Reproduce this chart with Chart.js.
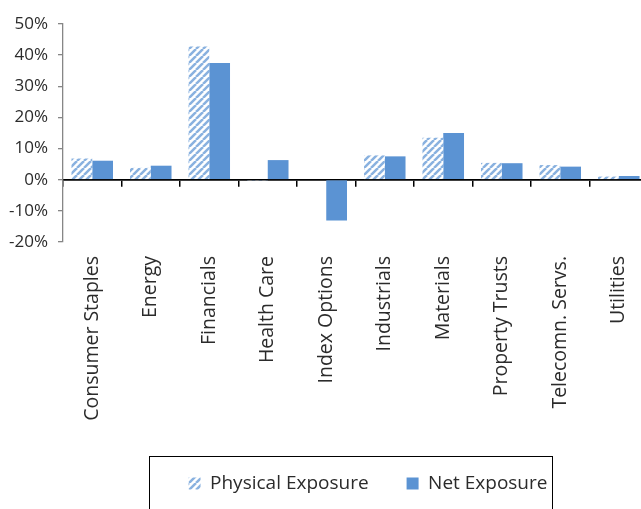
<!DOCTYPE html>
<html>
<head>
<meta charset="utf-8">
<script src="https://cdn.jsdelivr.net/npm/chart.js@4"></script>
<style>
  html, body { margin: 0; padding: 0; background: #fff; overflow: hidden; }
  #wrap { position: absolute; left: 0; top: 0; width: 736px; height: 540px; }
</style>
</head>
<body>
<div id="wrap"><canvas id="exposureChart"></canvas></div>
<script>
const sectors = ["Consumer Staples", "Energy", "Financials", "Health Care", "Index Options",
  "Industrials", "Materials", "Property Trusts", "Telecomn. Servs.", "Utilities"];
const physicalExposure = [6.8, 3.8, 42.8, -0.3, 0, 7.8, 13.5, 5.4, 4.7, 1.0];
const netExposure = [6.1, 4.5, 37.5, 6.3, -13.1, 7.5, 15.0, 5.3, 4.2, 1.2];
const yTicks = [-20, -10, 0, 10, 20, 30, 40, 50];

const BLUE = "#5b93d3";
const TEXT = "#2b2b2b";
const FONT = "'Open Sans', 'Noto Sans', sans-serif";

// diagonal hatch for the physical exposure bars
const makeHatch = () => {
  const c = document.createElement("canvas");
  c.width = 7; c.height = 7;
  const g = c.getContext("2d");
  g.fillStyle = "#fff";
  g.fillRect(0, 0, 7, 7);
  g.strokeStyle = "rgba(91,147,211,0.72)";
  g.lineWidth = 2.5;
  g.beginPath();
  for (let k = -7; k <= 14; k += 7) {
    g.moveTo(k, 7);
    g.lineTo(k + 7, 0);
  }
  g.stroke();
  return g.createPattern(c, "repeat");
};
const hatch = makeHatch();

// frame around the legend
const legendFrame = {
  id: "legendFrame",
  afterDraw(chart) {
    const boxes = chart.legend && chart.legend.legendHitBoxes;
    if (!boxes || !boxes.length) return;
    const first = boxes[0], last = boxes[boxes.length - 1];
    const ctx = chart.ctx;
    const cy = first.top + first.height / 2;
    const l = first.left - 40, r = last.left + last.width + 4;
    const t = cy - 28, b = cy + 60;
    ctx.save();
    ctx.strokeStyle = "#000";
    ctx.lineWidth = 1;
    ctx.strokeRect(Math.round(l) + 0.5, Math.round(t) + 0.5, Math.round(r - l), Math.round(b - t));
    ctx.restore();
  }
};

new Chart(document.getElementById("exposureChart"), {
  type: "bar",
  data: {
    labels: sectors,
    datasets: [
      { label: "Physical Exposure", data: physicalExposure, backgroundColor: hatch, borderWidth: 0 },
      { label: "Net Exposure", data: netExposure, backgroundColor: BLUE, borderWidth: 0 },
    ],
  },
  options: {
    responsive: true,
    maintainAspectRatio: false,
    animation: false,
    layout: { padding: { left: 0, right: 0, top: 24, bottom: 37 } },
    datasets: { bar: { categoryPercentage: 0.71, barPercentage: 1 } },
    plugins: {
      tooltip: { enabled: false },
      legend: {
        position: "bottom",
        labels: {
          color: TEXT,
          font: { family: FONT, size: 19 },
          boxWidth: 12,
          boxHeight: 12,
          padding: 38,
        },
      },
    },
    scales: {
      x: {
        type: "category",
        position: "bottom",
        grid: { display: false },
        border: { display: false },
        ticks: {
          color: TEXT,
          font: { family: FONT, size: 19.5 },
          minRotation: 90,
          maxRotation: 90,
          padding: 6,
          autoSkip: false,
        },
        afterFit: s => { s.height = 194; },
      },
      zeroAxis: {
        type: "category",
        axis: "x",
        labels: sectors,
        position: { y: 0 },
        offset: true,
        grid: { offset: true, drawOnChartArea: false, drawTicks: true, tickLength: 6, color: "#000", lineWidth: 1.5 },
        border: { color: "#000", width: 1.8 },
        ticks: { display: false },
      },
      y: {
        min: -20,
        max: 50,
        afterBuildTicks: s => { s.ticks = yTicks.map(v => ({ value: v })); },
        afterFit: s => { s.width = 63; },
        grid: { drawOnChartArea: false, tickLength: 5, color: "#868686", lineWidth: 1.3 },
        border: { color: "#868686", width: 1.3 },
        ticks: {
          color: TEXT,
          font: { family: FONT, size: 17 },
          padding: 10,
          callback: v => v + "%",
        },
      },
      spacer: {
        type: "linear",
        position: "right",
        display: true,
        grid: { display: false },
        border: { display: false },
        ticks: { display: false },
        afterFit: s => { s.width = 88; },
      },
    },
  },
  plugins: [legendFrame],
});
</script>
</body>
</html>
